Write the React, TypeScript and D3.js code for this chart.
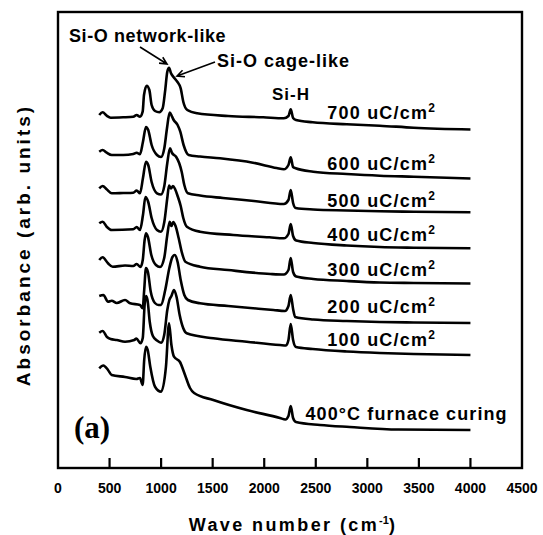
import React from 'react';
import * as d3 from 'd3';

type Pt = [number, number];

const doseLabels = ['700', '600', '500', '400', '300', '200', '100'];
const furnaceLabel = '400°C furnace curing';
const xTicks = [0, 500, 1000, 1500, 2000, 2500, 3000, 3500, 4000, 4500];

const spectrum700: Pt[] = [[400,353],[433,355.7],[472,352.3],[511,350.3],[633,350.7],[730,351.3],[763,353],[795,351.3],[821,356.3],[834,373],[860,382.3],[886,378],[908,363],[941,357],[982,355.7],[1015,359.7],[1038,376.3],[1060,396.3],[1077,400.3],[1096,394.7],[1118,391.3],[1157,386.3],[1190,379.7],[1215,366.3],[1254,358],[1350,354.7],[1650,352],[1990,350.7],[2190,349.7],[2235,352],[2257,358.7],[2280,350],[2308,348],[2470,345.7],[2800,343.7],[3120,342.3],[3450,340.3],[4000,338.5]];
const spectrum600: Pt[] = [[400,316.3],[433,318],[472,315.3],[521,313],[633,313],[730,314],[763,315.3],[795,313.7],[824,326.3],[853,341],[875,338],[908,323],[960,313],[999,311],[1031,319.7],[1057,339.7],[1083,355.5],[1106,351.3],[1122,348],[1160,343],[1186,336.3],[1218,323],[1267,313],[1377,311.5],[1571,309.7],[1890,305.3],[2120,300],[2190,298.7],[2235,303],[2257,310.7],[2280,301],[2305,299.7],[2475,296.3],[2800,294],[3120,292.3],[3450,291.3],[4000,289.5]];
const spectrum500: Pt[] = [[400,279.7],[433,282],[472,278.7],[521,274.7],[633,275],[730,275.3],[763,277.5],[795,274.7],[824,290],[853,306.3],[875,303],[908,286],[960,274.7],[999,273.5],[1031,282],[1060,305],[1086,319.7],[1106,315],[1145,311.3],[1175,305],[1200,296],[1225,283],[1260,274.7],[1377,272.5],[1600,270],[1900,267],[2190,264],[2235,268],[2257,278],[2280,265],[2305,260],[2475,258.5],[2800,257.5],[3120,256.7],[3450,256.3],[4000,255.7]];
const spectrum400: Pt[] = [[400,244.7],[433,246.3],[472,241.3],[521,238],[730,238.7],[763,241],[795,238],[824,253],[848,271],[875,266],[908,250],[960,238],[999,236.3],[1031,246],[1060,270],[1077,282.5],[1096,279.5],[1115,282],[1135,279],[1160,272],[1190,262],[1215,250],[1250,241.3],[1377,236.3],[1700,233],[2050,230.7],[2190,229.7],[2235,234],[2257,244],[2280,232],[2310,227.5],[2475,225],[2800,222.5],[3120,221],[3450,220.3],[4000,219.7]];
const spectrum300: Pt[] = [[400,208],[433,210.7],[485,204.7],[530,201.3],[650,202.5],[730,202],[763,204],[800,201],[822,208],[840,228],[853,234.7],[872,231],[905,213],[950,203],[990,201],[1030,210],[1060,233],[1083,246.3],[1100,242],[1118,246],[1140,242],[1170,230],[1200,216],[1235,206.3],[1377,201.3],[1650,198],[2060,194],[2190,193.5],[2235,198],[2257,210],[2280,196],[2310,191.5],[2475,189],[2800,187],[3120,185.5],[3450,185],[4000,184.5]];
const spectrum200: Pt[] = [[400,172],[440,173],[485,166.3],[521,167.3],[570,165],[650,168],[700,164.7],[795,163],[821,159.7],[836,178],[853,200],[872,196],[900,176],[940,165],[975,163],[1000,163],[1040,178],[1080,200],[1110,211],[1133,213],[1160,206],[1190,188],[1225,173],[1260,168],[1377,164.7],[1650,162],[2090,158],[2200,157],[2235,162],[2257,173],[2280,159],[2300,151],[2475,148.5],[2800,147],[3120,146],[3450,145.5],[4000,145]];
const spectrum100: Pt[] = [[400,135.3],[433,137],[475,131],[510,129],[570,128],[650,126.3],[740,128],[760,129.5],[800,124.7],[822,130],[840,163],[853,172],[868,168],[890,146],[920,132],[960,127.5],[1000,125.3],[1030,133],[1060,158],[1080,168],[1100,172],[1125,178],[1150,171],[1180,153],[1215,139.7],[1248,134.7],[1506,129.7],[1830,126.3],[2153,123],[2211,122.5],[2235,128],[2257,144],[2280,128],[2308,121],[2470,119],[2800,116.5],[3120,115],[3450,114],[4000,113]];
const spectrumFurnace: Pt[] = [[400,99.7],[440,102.5],[485,98],[521,93],[650,91],[760,89],[795,90],[821,83],[836,108],[853,121.3],[870,118],[895,101.3],[941,81.3],[1000,76.3],[1047,101.3],[1077,144.7],[1100,123],[1125,111.3],[1183,106],[1232,93],[1280,80],[1320,75],[1506,68],[1830,58],[2153,50],[2205,48.5],[2235,52],[2257,62],[2280,50],[2308,46],[2541,43],[2830,41],[3300,38.5],[4000,38]];

const FONT = "'Liberation Sans', Arial, Helvetica, sans-serif";

export default function App() {
  const W = 543, H = 535;
  const left = 58, right = 522, top = 12, bottom = 468;
  const x = d3.scaleLinear().domain([0, 4500]).range([left, right]);
  const y = d3.scaleLinear().domain([0, 456]).range([bottom, top]);
  const line = d3.line<Pt>().x(d => x(d[0])).y(d => y(d[1])).curve(d3.curveMonotoneX);
  const series = [spectrum700, spectrum600, spectrum500, spectrum400, spectrum300, spectrum200, spectrum100, spectrumFurnace];
  const labelBaselines = [118.5, 169.5, 207, 240.5, 275.5, 313, 345.5];

  const arrow = (x1: number, y1: number, x2: number, y2: number) => {
    const a = Math.atan2(y2 - y1, x2 - x1);
    const L = 8, s = 0.45;
    const p1 = [x2 - L * Math.cos(a - s), y2 - L * Math.sin(a - s)];
    const p2 = [x2 - L * Math.cos(a + s), y2 - L * Math.sin(a + s)];
    return `M${x1},${y1}L${x2},${y2}M${p1[0]},${p1[1]}L${x2},${y2}L${p2[0]},${p2[1]}`;
  };

  return (
    <svg width={W} height={H} style={{ position: 'absolute', left: 0, top: 0, background: '#fff' }}>
      <rect x={0} y={0} width={W} height={H} fill="#fff" />
      <rect x={left} y={top} width={right - left} height={bottom - top} fill="none" stroke="#000" strokeWidth={2.4} />
      {xTicks.slice(1, -1).map(t => (
        <line key={t} x1={x(t)} x2={x(t)} y1={bottom} y2={bottom - 10} stroke="#000" strokeWidth={2.2} />
      ))}
      {xTicks.map(t => (
        <text key={'l' + t} x={x(t)} y={493} textAnchor="middle" fontFamily={FONT} fontWeight="bold" fontSize={14}>{t}</text>
      ))}
      <text x={293} y={531} textAnchor="middle" fontFamily={FONT} fontWeight="bold" fontSize={18} letterSpacing={2.4}>
        Wave number (cm<tspan dy={-7} fontSize={11} letterSpacing={0}>-1</tspan><tspan dy={7}>)</tspan>
      </text>
      <text transform="translate(30,245) rotate(-90)" textAnchor="middle" fontFamily={FONT} fontWeight="bold" fontSize={19} letterSpacing={3}>
        Absorbance (arb. units)
      </text>
      {series.map((s, i) => (
        <path key={i} d={line(s) || ''} fill="none" stroke="#000" strokeWidth={2.6} strokeLinejoin="round" />
      ))}
      {doseLabels.map((d, i) => (
        <text key={d} x={x(2612)} y={labelBaselines[i]} fontFamily={FONT} fontWeight="bold" fontSize={18} letterSpacing={1.2}>
          {d} uC/cm<tspan dy={-7} fontSize={12}>2</tspan>
        </text>
      ))}
      <text x={x(2400)} y={420} fontFamily={FONT} fontWeight="bold" fontSize={18} letterSpacing={1.1}>{furnaceLabel}</text>
      <text x={291} y={100} textAnchor="middle" fontFamily={FONT} fontWeight="bold" fontSize={17} letterSpacing={1}>Si-H</text>
      <text x={69} y={42} fontFamily={FONT} fontWeight="bold" fontSize={18} letterSpacing={0.6}>Si-O network-like</text>
      <text x={217} y={67} fontFamily={FONT} fontWeight="bold" fontSize={18} letterSpacing={1}>Si-O cage-like</text>
      <path d={arrow(140, 47, 167, 64)} fill="none" stroke="#000" strokeWidth={1.6} />
      <path d={arrow(215, 62, 177, 76)} fill="none" stroke="#000" strokeWidth={1.6} />
      <text x={74} y={438} fontFamily="'Liberation Serif', 'Times New Roman', serif" fontWeight="bold" fontSize={31}>(a)</text>
    </svg>
  );
}
